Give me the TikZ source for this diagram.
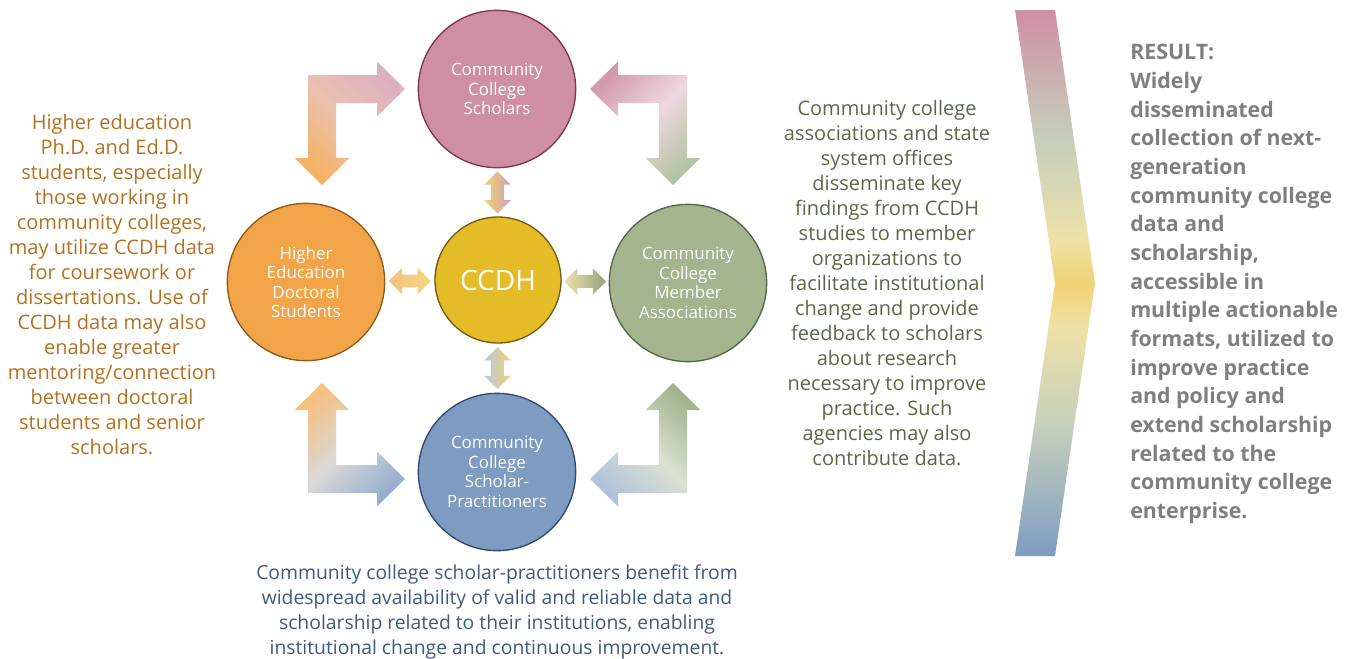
\documentclass[tikz,border=0pt]{standalone}
\usepackage{fontspec}
\setmainfont{Open Sans}
\usetikzlibrary{shapes.arrows,calc}

\definecolor{scholPink}{HTML}{CE8EA4}
\definecolor{scholLine}{HTML}{7C3552}
\definecolor{docOrange}{HTML}{F2A548}
\definecolor{docLine}{HTML}{8D5A19}
\definecolor{ccdhYellow}{HTML}{E4BC28}
\definecolor{ccdhLine}{HTML}{6E5C12}
\definecolor{memGreen}{HTML}{A3B48E}
\definecolor{memLine}{HTML}{56664A}
\definecolor{pracBlue}{HTML}{7E9CC1}
\definecolor{pracLine}{HTML}{2E4A6E}
\definecolor{leftTxt}{HTML}{B5701F}
\definecolor{rightTxt}{HTML}{5B6848}
\definecolor{bottomTxt}{HTML}{3F5A80}
\definecolor{resultTxt}{HTML}{7F7F7F}
\definecolor{chPink}{HTML}{CF8FA6}
\definecolor{chGreen}{HTML}{C6D0BC}
\definecolor{chPale}{HTML}{EFE1A8}
\definecolor{chYellow}{HTML}{F0D274}
\definecolor{chBlue}{HTML}{7E9CC2}

\pgfdeclareverticalshading{chevshade}{100bp}{color(0bp)=(chBlue); color(25bp)=(chBlue); color(37bp)=(chGreen); color(46bp)=(chPale); color(50bp)=(chYellow); color(54bp)=(chPale); color(63bp)=(chGreen); color(75bp)=(chPink); color(100bp)=(chPink)}

\newcommand\bentarrow[3]{%
  \shade[shift={#1},#2,#3] (0,0) -- (69,0) -- (69,-13.5) -- (97,14) -- (69,41.5) -- (69,28)
    -- (28,28) -- (28,83) -- (41.5,83) -- (14,110) -- (-13.5,83) -- (0,83) -- cycle;}

\begin{document}
\begin{tikzpicture}[x=0.75pt,y=-0.75pt,
    circ/.style={circle, minimum size=118pt, inner sep=0pt, line width=1pt, text=white,
      align=center, font=\fontsize{12.7}{14.6}\selectfont},
    dblarrow/.style={double arrow, inner sep=4.5pt, double arrow head extend=5.25pt,
      minimum height=31.5pt, draw=none},
    desc/.style={align=center, inner sep=0pt, font=\fontsize{15}{18.75}\selectfont}]
  \useasboundingbox (0,0) rectangle (1353,658);

  \node[circ, fill=scholPink, draw=scholLine] (scholars) at (497,89) {Community\\College\\Scholars};
  \node[circ, fill=docOrange, draw=docLine] (doctoral) at (306,282) {Higher\\Education\\Doctoral\\Students};
  \node[circ, fill=memGreen, draw=memLine] (members) at (688,283) {Community\\College\\Member\\Associations};
  \node[circ, fill=pracBlue, draw=pracLine] (practitioners) at (497,472) {Community\\College\\Scholar-\\Practitioners};
  \node[circ, minimum size=94.5pt, fill=ccdhYellow, draw=ccdhLine, font=\fontsize{21}{24}\selectfont] (ccdh) at (498,280) {CCDH};

  \node[dblarrow, rotate=90, left color=chYellow, right color=scholPink!85!white] (arrTop)
    at ($(scholars.south)!0.5!(ccdh.north)$) {};
  \node[dblarrow, rotate=90, left color=pracBlue!55!white, right color=chYellow] (arrBottom)
    at ($(ccdh.south)!0.5!(practitioners.north)$) {};
  \node[dblarrow, left color=docOrange!70!white, right color=chYellow!90!white] (arrLeft)
    at ($(doctoral.east)!0.5!(ccdh.west)$) {};
  \node[dblarrow, left color=chPale, right color=memGreen!90!black] (arrRight)
    at ($(ccdh.east)!0.5!(members.west)$) {};

  \bentarrow{(308,75)}{}{top color=scholPink!70!white, bottom color=docOrange!85!white, middle color=docOrange!40!scholPink!60!white, shading angle=-45}
  \bentarrow{(687,75)}{xscale=-1}{top color=scholPink!90!white, bottom color=memGreen!80!white, middle color=scholPink!35!white, shading angle=45}
  \bentarrow{(308,493)}{yscale=-1}{top color=docOrange!70!white, bottom color=pracBlue!80!white, middle color=docOrange!30!pracBlue!40!white, shading angle=45}
  \bentarrow{(687,493)}{xscale=-1,yscale=-1}{top color=memGreen, bottom color=pracBlue!60!white, middle color=memGreen!40!white, shading angle=-45}

  \shade[shading=chevshade] (1015,10) -- (1055,10) -- (1095,283) -- (1055,556) -- (1015,556) -- (1055,283) -- cycle;

  \node[desc, text=leftTxt] (doctext) at (112,284.5) {Higher education\\Ph.D. and Ed.D.\\students, especially\\those working in\\community colleges,\\may utilize CCDH data\\for coursework or\\dissertations. Use of\\CCDH data may also\\enable greater\\mentoring/connection\\between doctoral\\students and senior\\scholars.};
  \node[desc, text=rightTxt] (memtext) at (887,283.5) {Community college\\associations and state\\system offices\\disseminate key\\findings from CCDH\\studies to member\\organizations to\\facilitate institutional\\change and provide\\feedback to scholars\\about research\\necessary to improve\\practice. Such\\agencies may also\\contribute data.};
  \node[desc, text=bottomTxt, font=\fontsize{14.5}{18.75}\selectfont] (practext) at (497,612) {Community college scholar-practitioners benefit from\\widespread availability of valid and reliable data and\\scholarship related to their institutions, enabling\\institutional change and continuous improvement.};
  \node[anchor=west, align=left, inner sep=0pt, text=resultTxt, font=\bfseries\fontsize{16}{21.5}\selectfont] (result) at (1130,284) {RESULT:\\Widely\\disseminated\\collection of next-\\generation\\community college\\data and\\scholarship,\\accessible in\\multiple actionable\\formats, utilized to\\improve practice\\and policy and\\extend scholarship\\related to the\\community college\\enterprise.};
\end{tikzpicture}
\end{document}
